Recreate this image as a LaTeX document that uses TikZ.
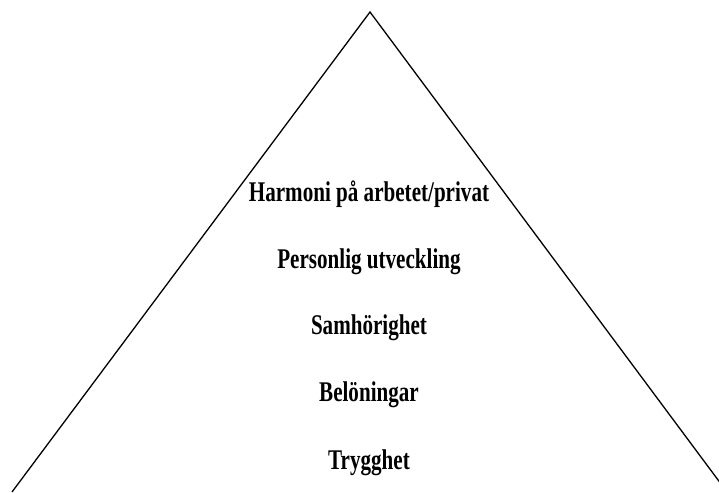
\documentclass[tikz,border=0pt]{standalone}
\usepackage{fontspec}
\setmainfont{Liberation Serif}[FakeStretch=0.74]
\usepackage{tikz}
\usetikzlibrary{positioning}

\begin{document}
\begin{tikzpicture}[
  x=1pt, y=-1pt,
  level/.style={anchor=base, inner sep=0pt, font=\bfseries\fontsize{28.5}{32}\selectfont},
  side/.style={line width=1.3pt}
]
\useasboundingbox (0,0) rectangle (719,492);
\clip (0,0) rectangle (719,492);
% pyramid outline
\coordinate (apex) at (370,12);
\coordinate (footL) at (12,492);
\coordinate (footR) at (727,492);
\draw[side] (footL) -- (apex) -- (footR);
% levels
\node[level] (harmoni) at (369,201) {Harmoni på arbetet/privat};
\node[level] (utveckling) at (369,268) {Personlig utveckling};
\node[level] (samhorighet) at (369,334) {Samhörighet};
\node[level] (beloningar) at (369,401) {Belöningar};
\node[level] (trygghet) at (369,469) {Trygghet};
\end{tikzpicture}
\end{document}
